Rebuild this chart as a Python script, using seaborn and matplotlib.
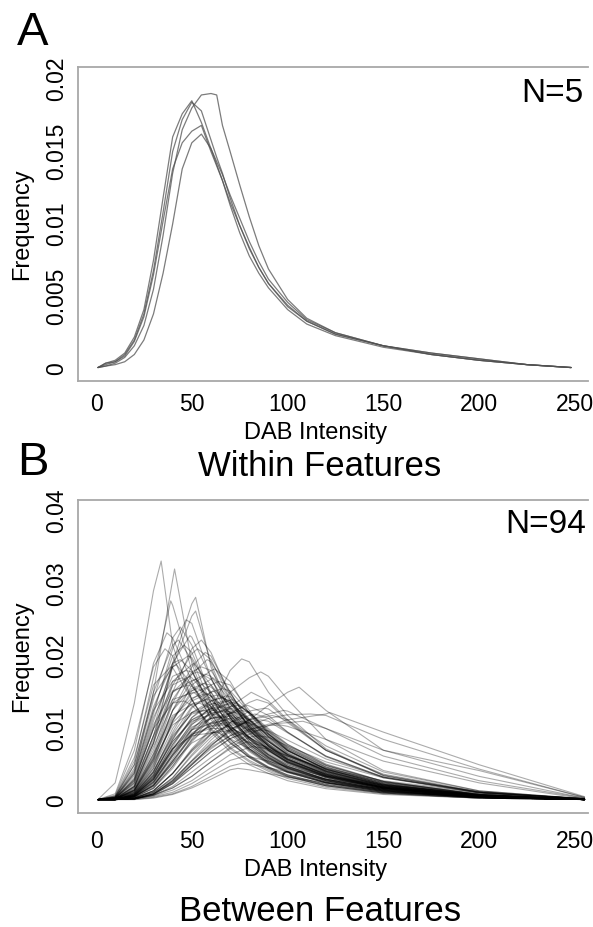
import matplotlib
matplotlib.use('Agg')
import matplotlib.pyplot as plt
import numpy as np
import pandas as pd
import seaborn as sns

# values are in units of 1e-4 (frequency * 10000)
a_x = [1, 5, 10, 15, 20, 25, 30, 35, 40, 45, 50, 55, 60, 63, 66, 70, 75,
       80, 85, 90, 100, 110, 125, 150, 175, 200, 225, 248]
a_curves = [
    [1, 4, 6, 11, 22, 41, 75, 118, 160, 176, 185, 170, 152, 141, 130, 113, 94, 78, 66, 56, 41, 31, 23, 15, 10, 6, 3, 1],
    [1, 3, 5, 10, 20, 38, 68, 108, 150, 172, 184, 178, 158, 146, 135, 118, 99, 83, 70, 59, 44, 33, 24, 16, 10, 6, 3, 1],
    [1, 2, 4, 8, 16, 30, 55, 92, 135, 165, 180, 189, 190, 189, 168, 150, 127, 105, 85, 69, 48, 35, 25, 16, 11, 7, 3, 1],
    [1, 4, 5, 9, 19, 36, 65, 102, 138, 156, 164, 168, 150, 140, 130, 115, 99, 84, 70, 59, 43, 33, 24, 16, 10, 6, 3, 1],
    [1, 2, 3, 5, 10, 20, 38, 66, 100, 138, 156, 162, 152, 143, 134, 120, 104, 88, 74, 62, 46, 34, 25, 16, 11, 7, 3, 1],
]

# each row: peak x, peak value, then values at b_x
b_x = [1, 10, 20, 30, 40, 50, 60, 70, 80, 90, 100, 120, 150, 200, 255]
b_rows = [
    [34, 331, 2, 25, 135, 290, 215, 140, 95, 68, 50, 38, 28, 17, 9, 4, 2],
    [41, 320, 2, 5, 40, 150, 305, 190, 120, 82, 60, 45, 34, 21, 11, 4, 2],
    [52, 281, 2, 4, 20, 80, 190, 272, 185, 120, 85, 62, 46, 28, 14, 5, 2],
    [39, 276, 2, 6, 55, 170, 270, 180, 120, 85, 62, 46, 35, 22, 12, 5, 2],
    [52, 262, 2, 4, 25, 90, 185, 255, 190, 125, 88, 64, 48, 29, 15, 5, 2],
    [47, 250, 2, 5, 35, 120, 210, 245, 170, 115, 82, 60, 45, 28, 15, 6, 2],
    [44, 240, 2, 5, 45, 140, 225, 215, 145, 100, 72, 54, 41, 26, 14, 5, 2],
    [37, 232, 2, 8, 70, 190, 225, 165, 112, 80, 60, 45, 34, 21, 11, 4, 2],
    [49, 228, 2, 4, 28, 100, 190, 226, 170, 118, 85, 63, 48, 30, 16, 6, 2],
    [43, 222, 2, 6, 50, 150, 215, 195, 135, 95, 70, 52, 40, 25, 13, 5, 2],
    [55, 222, 2, 3, 18, 70, 150, 210, 205, 145, 100, 72, 54, 33, 17, 6, 2],
    [36, 210, 2, 10, 80, 185, 200, 140, 98, 72, 54, 41, 31, 19, 10, 4, 2],
    [46, 215, 2, 4, 38, 125, 200, 205, 145, 100, 72, 53, 40, 25, 13, 5, 2],
    [53, 210, 2, 3, 20, 80, 160, 203, 195, 140, 98, 70, 52, 32, 17, 6, 2],
    [57, 205, 2, 3, 15, 60, 135, 185, 200, 150, 105, 75, 56, 34, 18, 6, 2],
    [48, 200, 2, 4, 30, 110, 185, 198, 150, 105, 76, 56, 42, 26, 14, 5, 2],
    [44, 195, 2, 5, 42, 130, 190, 180, 130, 95, 70, 52, 40, 25, 13, 5, 2],
    [58, 195, 2, 3, 14, 55, 125, 175, 192, 150, 108, 78, 58, 36, 19, 7, 2],
    [51, 190, 2, 3, 22, 90, 165, 188, 160, 115, 82, 60, 45, 28, 15, 5, 2],
    [42, 188, 2, 6, 50, 145, 185, 160, 115, 85, 63, 47, 36, 23, 12, 5, 2],
    [55, 185, 2, 3, 16, 65, 140, 178, 180, 140, 102, 75, 56, 35, 18, 6, 2],
    [62, 182, 2, 3, 12, 45, 110, 160, 180, 165, 120, 88, 66, 40, 21, 7, 2],
    [47, 180, 2, 4, 32, 115, 172, 178, 135, 98, 72, 54, 41, 26, 14, 5, 2],
    [53, 178, 2, 3, 20, 80, 150, 175, 168, 128, 94, 70, 53, 33, 17, 6, 2],
    [57, 175, 2, 3, 15, 58, 125, 165, 172, 138, 102, 76, 57, 36, 19, 7, 2],
    [49, 172, 2, 4, 26, 100, 160, 170, 140, 105, 78, 58, 44, 28, 15, 5, 2],
    [45, 170, 2, 5, 38, 125, 165, 160, 122, 92, 68, 51, 39, 25, 13, 5, 2],
    [61, 170, 2, 3, 12, 48, 110, 152, 168, 148, 112, 84, 63, 39, 20, 7, 2],
    [52, 168, 2, 3, 20, 85, 150, 166, 150, 115, 86, 64, 48, 30, 16, 6, 2],
    [64, 165, 2, 2, 10, 40, 95, 140, 160, 160, 125, 93, 70, 43, 22, 8, 2],
    [56, 162, 2, 3, 15, 62, 125, 155, 160, 130, 98, 73, 55, 35, 18, 6, 2],
    [48, 160, 2, 4, 28, 105, 152, 158, 130, 100, 75, 56, 43, 27, 14, 5, 2],
    [59, 158, 2, 3, 12, 50, 112, 148, 157, 135, 102, 77, 58, 36, 19, 7, 2],
    [53, 155, 2, 3, 18, 75, 135, 152, 145, 115, 87, 66, 50, 32, 17, 6, 2],
    [66, 155, 2, 2, 9, 35, 85, 128, 150, 152, 122, 93, 70, 44, 23, 8, 2],
    [61, 152, 2, 3, 11, 45, 100, 138, 150, 135, 104, 79, 60, 38, 20, 7, 2],
    [51, 150, 2, 4, 24, 90, 140, 149, 130, 102, 78, 59, 45, 29, 15, 5, 2],
    [57, 148, 2, 3, 14, 58, 115, 142, 145, 122, 94, 71, 54, 34, 18, 6, 2],
    [63, 146, 2, 2, 10, 40, 92, 130, 144, 138, 108, 82, 62, 39, 20, 7, 2],
    [68, 145, 2, 2, 8, 30, 75, 115, 138, 144, 120, 92, 70, 44, 23, 8, 2],
    [65, 142, 2, 2, 9, 36, 85, 122, 138, 138, 110, 85, 65, 41, 21, 7, 2],
    [71, 140, 2, 2, 7, 26, 65, 105, 130, 139, 122, 95, 72, 46, 24, 8, 2],
    [67, 138, 2, 2, 8, 32, 78, 115, 133, 136, 112, 87, 67, 42, 22, 8, 2],
    [72, 136, 2, 2, 6, 22, 58, 98, 124, 135, 122, 96, 74, 47, 25, 9, 2],
    [62, 135, 2, 2, 10, 40, 88, 122, 134, 122, 98, 76, 58, 37, 19, 7, 2],
    [69, 134, 2, 2, 7, 28, 70, 108, 128, 133, 114, 89, 69, 44, 23, 8, 2],
    [74, 132, 2, 2, 6, 20, 52, 90, 117, 130, 122, 98, 76, 49, 26, 9, 2],
    [66, 130, 2, 2, 8, 33, 78, 112, 127, 128, 106, 83, 64, 41, 21, 7, 2],
    [71, 128, 2, 2, 6, 24, 62, 100, 121, 127, 112, 89, 69, 44, 23, 8, 2],
    [64, 126, 2, 2, 9, 36, 82, 112, 124, 118, 96, 76, 58, 37, 19, 7, 2],
    [76, 125, 2, 2, 5, 17, 45, 82, 108, 121, 122, 100, 78, 50, 27, 9, 2],
    [68, 124, 2, 2, 7, 30, 72, 106, 121, 123, 104, 82, 64, 41, 21, 7, 2],
    [73, 122, 2, 2, 6, 21, 55, 92, 114, 121, 112, 90, 70, 45, 24, 8, 2],
    [62, 120, 2, 2, 10, 38, 82, 110, 119, 108, 88, 70, 54, 35, 18, 6, 2],
    [71, 118, 2, 2, 7, 26, 64, 98, 114, 117, 102, 82, 64, 41, 22, 8, 2],
    [66, 116, 2, 2, 8, 30, 72, 102, 114, 113, 96, 77, 60, 38, 20, 7, 2],
    [75, 115, 2, 2, 5, 18, 48, 84, 106, 114, 112, 92, 72, 47, 25, 9, 2],
    [69, 112, 2, 2, 6, 25, 62, 94, 108, 111, 98, 79, 62, 40, 21, 7, 2],
    [72, 110, 2, 2, 6, 21, 55, 88, 104, 109, 100, 82, 64, 42, 22, 8, 2],
    [64, 108, 2, 2, 8, 32, 72, 98, 107, 102, 85, 69, 54, 35, 18, 6, 2],
    [78, 108, 2, 2, 4, 14, 38, 70, 93, 104, 107, 92, 74, 49, 27, 9, 2],
    [67, 105, 2, 2, 7, 27, 64, 92, 103, 102, 88, 72, 57, 37, 19, 7, 2],
    [76, 196, 2, 2, 6, 22, 55, 90, 125, 180, 192, 150, 118, 72, 35, 12, 3],
    [86, 178, 2, 2, 5, 18, 48, 85, 115, 150, 170, 172, 140, 85, 42, 14, 3],
    [81, 150, 2, 2, 4, 14, 38, 72, 100, 130, 148, 138, 112, 70, 35, 12, 3],
    [84, 140, 2, 2, 4, 12, 32, 64, 92, 120, 136, 135, 110, 70, 36, 12, 3],
    [79, 132, 2, 2, 4, 14, 38, 70, 98, 122, 131, 118, 95, 61, 32, 11, 3],
    [88, 128, 2, 2, 3, 10, 28, 56, 84, 108, 124, 127, 108, 70, 37, 13, 3],
    [83, 120, 2, 2, 4, 12, 32, 62, 88, 108, 118, 114, 95, 62, 33, 11, 3],
    [77, 110, 2, 2, 4, 14, 38, 68, 92, 106, 108, 96, 78, 51, 27, 9, 2],
    [86, 112, 2, 2, 3, 10, 28, 55, 80, 100, 109, 110, 94, 62, 33, 12, 3],
    [92, 118, 2, 2, 3, 9, 24, 50, 76, 98, 112, 117, 112, 76, 40, 14, 3],
    [106, 157, 2, 2, 4, 12, 30, 55, 78, 95, 112, 132, 150, 125, 70, 42, 5],
    [122, 122, 2, 2, 3, 8, 20, 40, 60, 78, 92, 104, 112, 120, 95, 50, 6],
    [112, 120, 2, 2, 3, 10, 26, 50, 72, 90, 104, 114, 119, 118, 85, 44, 5],
    [98, 125, 2, 2, 3, 10, 26, 50, 76, 98, 112, 120, 124, 100, 62, 28, 4],
    [108, 110, 2, 2, 3, 9, 24, 46, 68, 86, 98, 106, 108, 100, 70, 34, 4],
    [96, 105, 2, 2, 3, 10, 28, 52, 74, 90, 99, 104, 103, 85, 55, 25, 3],
    [78, 62, 2, 2, 3, 6, 12, 24, 40, 56, 61, 55, 47, 34, 22, 10, 2],
    [76, 52, 2, 2, 2, 5, 10, 20, 34, 48, 51, 46, 40, 30, 20, 9, 2],
    [82, 75, 2, 2, 3, 7, 15, 28, 46, 64, 74, 72, 62, 45, 28, 12, 3],
    [74, 45, 2, 2, 2, 4, 9, 18, 30, 43, 43, 38, 33, 25, 17, 8, 2],
    [84, 90, 2, 2, 3, 8, 18, 34, 54, 74, 88, 88, 76, 54, 32, 13, 3],
    [79, 82, 2, 2, 3, 8, 18, 34, 54, 72, 81, 74, 62, 43, 26, 11, 2],
    [58, 140, 2, 3, 13, 52, 108, 134, 139, 118, 92, 70, 53, 34, 18, 6, 2],
    [54, 135, 2, 3, 16, 65, 118, 133, 128, 104, 80, 61, 47, 30, 16, 6, 2],
    [61, 128, 2, 2, 11, 42, 90, 120, 127, 112, 88, 68, 52, 34, 18, 6, 2],
    [46, 138, 2, 4, 30, 100, 135, 132, 105, 80, 61, 47, 36, 23, 12, 5, 2],
    [65, 100, 2, 2, 8, 30, 68, 92, 100, 96, 80, 64, 50, 33, 17, 6, 2],
    [72, 98, 2, 2, 6, 22, 52, 80, 94, 97, 88, 72, 57, 37, 19, 7, 2],
    [56, 125, 2, 3, 14, 55, 105, 122, 122, 100, 78, 60, 46, 30, 16, 6, 2],
    [39, 185, 2, 7, 60, 160, 184, 140, 100, 74, 56, 43, 33, 21, 11, 4, 2],
    [63, 95, 2, 2, 9, 34, 72, 90, 94, 86, 72, 58, 46, 30, 16, 6, 2],
    [87, 98, 2, 2, 3, 9, 24, 46, 68, 86, 96, 97, 84, 58, 33, 12, 3],
]

a_yticks = [0, 0.005, 0.01, 0.015, 0.02]
a_ylabels = ['0', '0.005', '0.01', '0.015', '0.02']
b_yticks = [0, 0.01, 0.02, 0.03, 0.04]
b_ylabels = ['0', '0.01', '0.02', '0.03', '0.04']
xticks = [0, 50, 100, 150, 200, 250]

W, H = 593, 927
GRAY = '#a8a8a8'


def fx(px):
    return px / W


def fy(py):
    return 1 - py / H


def long_table():
    rows = []
    for i, vals in enumerate(a_curves):
        for x, v in zip(a_x, vals):
            rows.append(('A', i, x, v / 10000))
    for i, r in enumerate(b_rows):
        pts = dict(zip(b_x, r[2:]))
        pts[r[0]] = r[1]
        for x in sorted(pts):
            rows.append(('B', i, x, pts[x] / 10000))
    return pd.DataFrame(rows, columns=['panel', 'curve', 'x', 'freq'])


def style_axes(ax, yticks, ylabels, xpad):
    sns.despine(ax=ax, right=True, top=False)
    for s in ['top', 'left', 'bottom']:
        ax.spines[s].set_color(GRAY)
        ax.spines[s].set_linewidth(1.3)
    ax.set_xticks(xticks)
    ax.set_xticklabels([str(t) for t in xticks])
    ax.set_yticks(yticks)
    ax.set_yticklabels(ylabels, rotation=90, va='center')
    ax.tick_params(axis='both', colors=GRAY, labelcolor='black', length=5,
                   width=1.2, direction='out', labelsize=16.5)
    ax.tick_params(axis='x', pad=xpad)
    ax.tick_params(axis='y', pad=2)
    ax.set_xlabel('')
    ax.set_ylabel('')


def main():
    sns.set_style('white')
    plt.rcParams['font.family'] = ['Liberation Sans', 'DejaVu Sans']
    plt.rcParams['text.color'] = 'black'

    df = long_table()
    fig = plt.figure(figsize=(W / 100, H / 100), dpi=100)

    ax_a = fig.add_axes([fx(78), fy(381), fx(588) - fx(78), fy(67) - fy(381)])
    sns.lineplot(data=df[df.panel == 'A'], x='x', y='freq', units='curve',
                 estimator=None, color='#505050', alpha=0.75, lw=0.9, ax=ax_a)
    ax_a.set_xlim(-9.4, 256.8)
    ax_a.set_ylim(-0.000828, 0.020828)
    style_axes(ax_a, a_yticks, a_ylabels, 3.5)

    ax_b = fig.add_axes([fx(78), fy(813), fx(588) - fx(78), fy(500) - fy(813)])
    sns.lineplot(data=df[df.panel == 'B'], x='x', y='freq', units='curve',
                 estimator=None, color='black', alpha=0.33, lw=0.8, ax=ax_b)
    ax_b.set_xlim(-9.4, 256.8)
    ax_b.set_ylim(-0.001655, 0.041517)
    style_axes(ax_b, b_yticks, b_ylabels, 7)

    fig.text(fx(17), fy(45), 'A', fontsize=34, ha='left', va='baseline')
    fig.text(fx(17), fy(475), 'B', fontsize=34, ha='left', va='baseline')
    fig.text(fx(583), fy(102), 'N=5', fontsize=24, ha='right', va='baseline')
    fig.text(fx(586), fy(533), 'N=94', fontsize=24, ha='right', va='baseline')

    for yc in [224, 656]:
        fig.text(fx(22), fy(yc), 'Frequency', fontsize=17, rotation=90,
                 ha='center', va='center')
    fig.text(fx(316), fy(439), 'DAB Intensity', fontsize=17, ha='center', va='baseline')
    fig.text(fx(316), fy(876), 'DAB Intensity', fontsize=17, ha='center', va='baseline')
    fig.text(fx(320), fy(476), 'Within Features', fontsize=25, ha='center', va='baseline')
    fig.text(fx(320), fy(921), 'Between Features', fontsize=25, ha='center', va='baseline')

    fig.savefig('out.png', dpi=100)


if __name__ == '__main__':
    main()
